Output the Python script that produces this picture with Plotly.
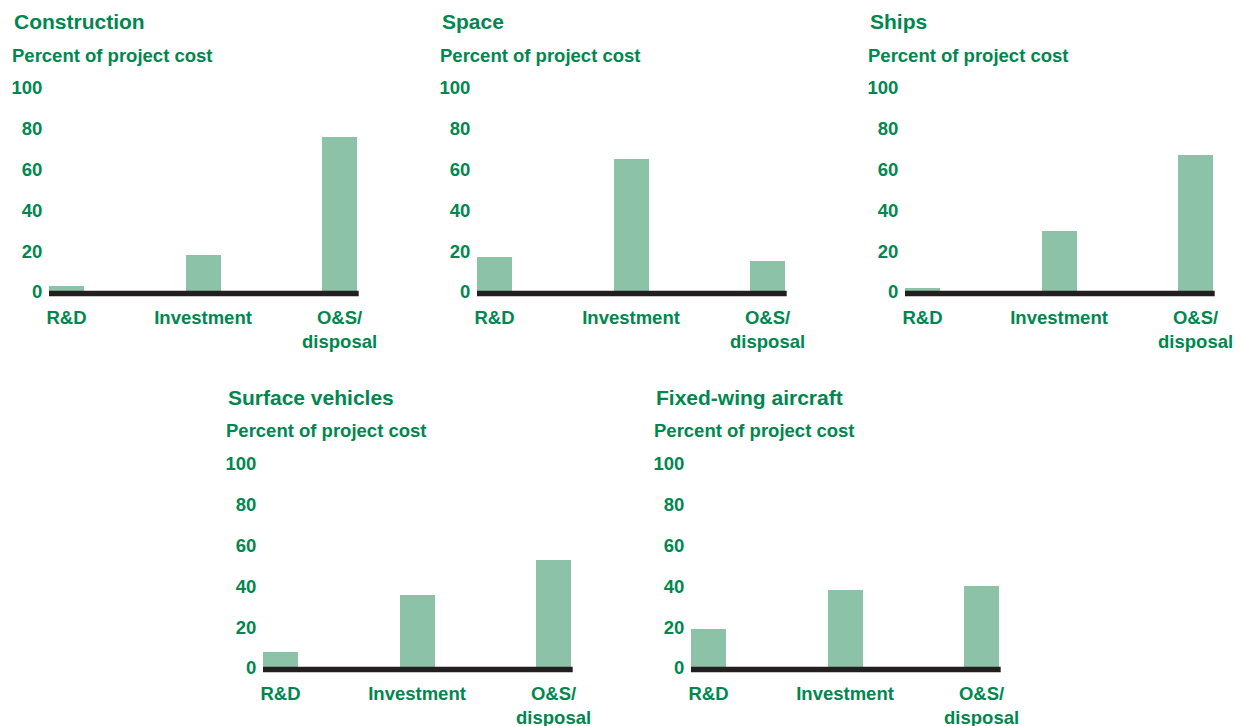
import plotly.graph_objects as go

categories = ["R&D", "Investment", "O&S/<br>disposal"]
panel_titles = ["Construction", "Space", "Ships", "Surface vehicles", "Fixed-wing aircraft"]
construction = [3, 18, 76]
space = [17, 65, 15]
ships = [2, 30, 67]
surface_vehicles = [8, 36, 53]
fixed_wing = [19, 38, 40]
series = [construction, space, ships, surface_vehicles, fixed_wing]
y_ticks = [0, 20, 40, 60, 80, 100]
subtitle = "Percent of project cost"

W, H = 1241, 726
GREEN = "#00874f"
BAR = "#8cc3a8"
LINE = "#231f20"
FONT = "Liberation Sans, Arial, sans-serif"

offsets = [(0, 0), (428, 0), (856, 0), (214, 376), (642, 376)]

fig = go.Figure()
annotations = []
shapes = []
for i, (vals, title, (dx, dy)) in enumerate(zip(series, panel_titles, offsets)):
    n = i + 1
    xa = "x" if n == 1 else f"x{n}"
    ya = "y" if n == 1 else f"y{n}"
    fig.add_trace(go.Bar(x=categories, y=vals, xaxis=xa, yaxis=ya,
                         marker=dict(color=BAR, line=dict(width=0)),
                         width=0.256, showlegend=False, hoverinfo="x+y"))
    x0 = (49 + dx) / W
    x1 = (358.7 + dx) / W
    y0 = 1 - (292 + dy) / H
    y1 = 1 - (88 + dy) / H
    xkey = "xaxis" if n == 1 else f"xaxis{n}"
    ykey = "yaxis" if n == 1 else f"yaxis{n}"
    fig.layout[xkey] = dict(domain=[x0, x1], anchor=ya, type="category",
                            range=[-0.128, 2.14], showgrid=False, zeroline=False,
                            showline=False, ticks="outside", ticklen=9,
                            tickcolor="rgba(0,0,0,0)", automargin=False,
                            tickfont=dict(family=FONT, size=18.5, color=GREEN, weight="bold"),
                            fixedrange=True)
    fig.layout[ykey] = dict(domain=[y0, y1], anchor=xa, range=[0, 100],
                            tickvals=y_ticks, showgrid=False, zeroline=False,
                            showline=False, ticks="outside", ticklen=2,
                            tickcolor="rgba(0,0,0,0)", automargin=False,
                            tickfont=dict(family=FONT, size=18.5, color=GREEN, weight="bold"),
                            fixedrange=True)
    # baseline rule under each panel (paper coords so it is not clipped)
    yl = 1 - (293.5 + dy) / H
    shapes.append(dict(type="line", xref="paper", yref="paper",
                       x0=x0, x1=x1, y0=yl, y1=yl, layer="above",
                       line=dict(color=LINE, width=5.5)))
    annotations.append(dict(text=title, xref="paper", yref="paper",
                            x=(12 + dx) / W, y=1 - (21 + dy) / H,
                            xanchor="left", yanchor="middle", showarrow=False,
                            font=dict(family=FONT, size=21, color=GREEN, weight="bold")))
    annotations.append(dict(text=subtitle, xref="paper", yref="paper",
                            x=(10 + dx) / W, y=1 - (55 + dy) / H,
                            xanchor="left", yanchor="middle", showarrow=False,
                            font=dict(family=FONT, size=18.5, color=GREEN, weight="bold")))

fig.update_layout(width=W, height=H, margin=dict(l=0, r=0, t=0, b=0, autoexpand=False),
                  paper_bgcolor="white", plot_bgcolor="white",
                  annotations=annotations, shapes=shapes, bargap=0)
fig.write_html("out.html", config={"displayModeBar": False},
               post_script="document.body.style.margin='0';document.body.style.overflow='hidden';")
